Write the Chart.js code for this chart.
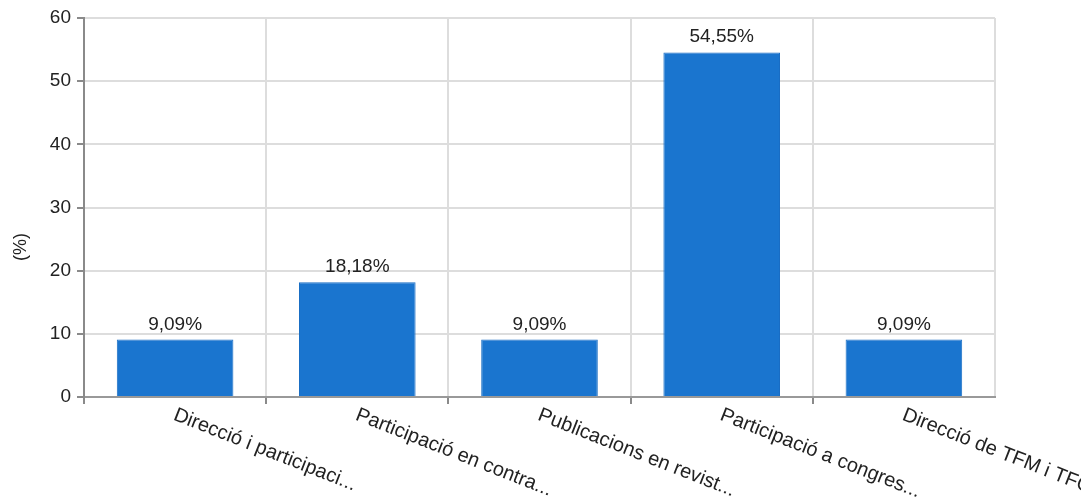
<!DOCTYPE html>
<html>

<head>
  <meta charset="utf-8">
  <title>Activitats (%)</title>
  <script src="https://cdn.jsdelivr.net/npm/chart.js@4.4.1/dist/chart.umd.min.js"></script>
  <style>
    html,
    body {
      margin: 0;
      padding: 0;
      background: #fff;
    }

    canvas {
      display: block;
    }
  </style>
</head>

<body>
  <canvas id="chart" width="1081" height="500"></canvas>
  <script>
    var categories = ["Direcció i participaci...", "Participació en contra...", "Publicacions en revist...",
      "Participació a congres...", "Direcció de TFM i TFG..."];
    var percents = [9.09, 18.18, 9.09, 54.55, 9.09];
    var yTicks = [0, 10, 20, 30, 40, 50, 60];
    var yTitle = '(%)';

    var FONT = '"Liberation Sans", Arial, sans-serif';

    // value labels above bars, slanted category labels, y title sitting a bit low
    var labelPlugin = {
      id: 'labels',
      afterDatasetsDraw: function(chart) {
        var ctx = chart.ctx;
        var xs = chart.scales.x;
        var meta = chart.getDatasetMeta(0);
        ctx.save();
        ctx.font = '19px ' + FONT;
        ctx.fillStyle = '#222';
        ctx.textAlign = 'center';
        ctx.textBaseline = 'alphabetic';
        meta.data.forEach(function(bar, i) {
          ctx.fillText(percents[i].toFixed(2).replace('.', ',') + '%', bar.x, bar.y - 10);
        });
        ctx.font = '20px ' + FONT;
        categories.forEach(function(c, i) {
          var px = xs.getPixelForTick(i);
          ctx.save();
          ctx.translate(px + 3, xs.top + 8);
          ctx.rotate(21.5 * Math.PI / 180);
          ctx.textAlign = 'left';
          ctx.textBaseline = 'top';
          ctx.fillText(c, 0, 0);
          ctx.restore();
        });
        ctx.save();
        ctx.font = '18px ' + FONT;
        ctx.translate(21, 247);
        ctx.rotate(-Math.PI / 2);
        ctx.textAlign = 'center';
        ctx.textBaseline = 'middle';
        ctx.fillText(yTitle, 0, 0);
        ctx.restore();
        ctx.restore();
      }
    };

    var ctx = document.getElementById('chart').getContext('2d');
    window.chart = new Chart(ctx, {
      type: 'bar',
      data: {
        labels: categories,
        datasets: [{
          data: percents,
          backgroundColor: '#1a75cf',
          borderColor: '#1a6ec4',
          borderWidth: 1,
          barPercentage: 0.64,
          categoryPercentage: 1
        }]
      },
      options: {
        responsive: false,
        animation: false,
        layout: { padding: { top: 18, right: 86, left: 0, bottom: 0 } },
        plugins: {
          legend: { display: false },
          tooltip: { enabled: false }
        },
        scales: {
          x: {
            ticks: { display: false },
            grid: {
              offset: true,
              color: '#dddddd',
              lineWidth: 2,
              tickLength: 7,
              tickColor: function(c) {
                return c.index === undefined ? 'rgba(0,0,0,0)' : '#8a8a8a';
              },
              tickWidth: 2
            },
            border: { color: '#999999', width: 2 },
            afterFit: function(s) { s.height = 103; }
          },
          y: {
            min: 0,
            max: 60,
            afterBuildTicks: function(s) {
              s.ticks = yTicks.map(function(v) { return { value: v }; });
            },
            ticks: {
              color: '#222',
              font: { family: FONT, size: 19 },
              padding: 6
            },
            grid: {
              color: '#dddddd',
              lineWidth: 2,
              tickLength: 7,
              tickColor: '#8a8a8a',
              tickWidth: 2
            },
            border: { color: '#8a8a8a', width: 2 },
            afterFit: function(s) { s.width = 84; }
          }
        }
      },
      plugins: [labelPlugin]
    });
  </script>
</body>

</html>
